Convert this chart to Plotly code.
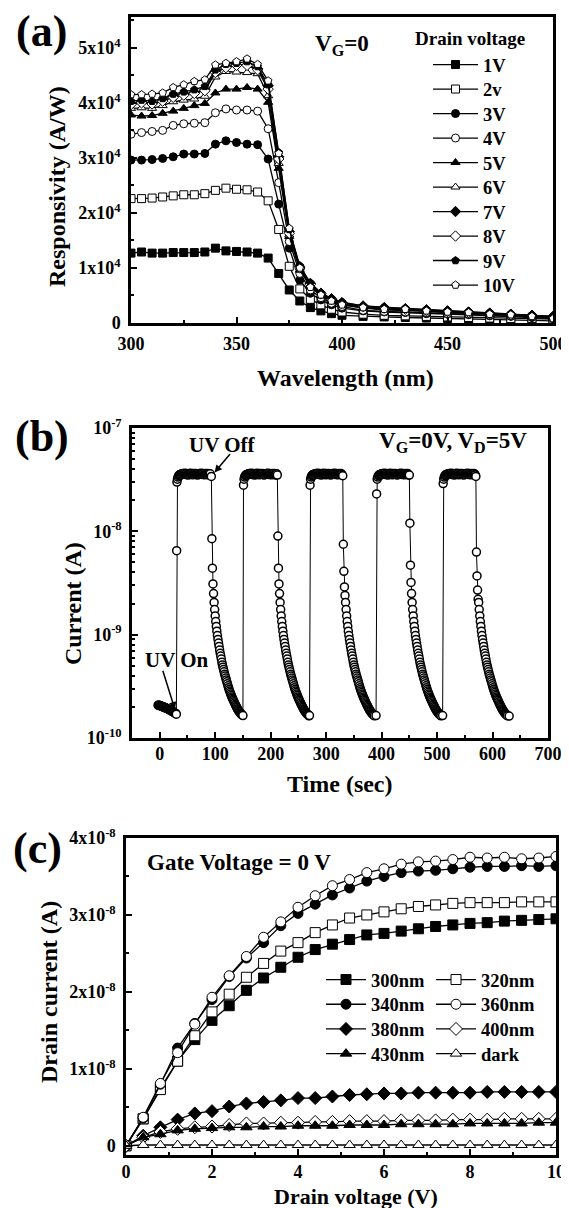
import math
import plotly.graph_objects as go

W, H = 569, 1208          # target window
PAD = 8                   # default page margin of the html body
WF, HF = W - PAD, H - PAD  # figure size so it fills the window exactly
FONT = "Liberation Serif"

# ---------------- Panel (a): responsivity vs wavelength (x1e4 A/W) ----------------
wavelength = [300, 305, 310, 315, 320, 325, 330, 335, 340, 345, 350, 355, 360, 365, 370,
              375, 380, 385, 390, 395, 400, 410, 420, 430, 440, 450, 460, 470, 480, 490, 500]
resp_1V = [1.27, 1.29, 1.27, 1.27, 1.28, 1.28, 1.28, 1.29, 1.36, 1.31, 1.30, 1.29, 1.27, 1.18, 0.90,
           0.60, 0.40, 0.28, 0.22, 0.17, 0.14, 0.12, 0.11, 0.10, 0.09, 0.08, 0.07, 0.06, 0.05, 0.05, 0.04]
resp_2V = [2.26, 2.26, 2.27, 2.29, 2.31, 2.33, 2.33, 2.35, 2.41, 2.45, 2.43, 2.42, 2.38, 2.22, 1.70,
           1.03, 0.62, 0.43, 0.33, 0.25, 0.20, 0.16, 0.14, 0.13, 0.12, 0.11, 0.10, 0.09, 0.08, 0.08, 0.07]
resp_3V = [2.96, 2.96, 2.97, 2.99, 3.02, 3.07, 3.07, 3.08, 3.25, 3.31, 3.28, 3.25, 3.24, 2.98, 2.16,
           1.36, 0.78, 0.54, 0.42, 0.33, 0.27, 0.22, 0.20, 0.19, 0.17, 0.16, 0.15, 0.13, 0.12, 0.10, 0.08]
resp_4V = [3.43, 3.46, 3.48, 3.50, 3.59, 3.62, 3.63, 3.64, 3.82, 3.89, 3.87, 3.87, 3.85, 3.53, 2.55,
           1.48, 0.90, 0.60, 0.46, 0.36, 0.30, 0.23, 0.21, 0.20, 0.19, 0.17, 0.16, 0.14, 0.13, 0.11, 0.09]
resp_5V = [3.78, 3.76, 3.77, 3.81, 3.85, 3.90, 3.95, 3.99, 4.18, 4.25, 4.25, 4.28, 4.25, 4.01, 2.81,
           1.57, 0.96, 0.66, 0.49, 0.39, 0.33, 0.27, 0.24, 0.23, 0.21, 0.19, 0.18, 0.16, 0.15, 0.13, 0.10]
resp_6V = [3.90, 3.91, 3.90, 3.95, 4.02, 4.05, 4.07, 4.12, 4.47, 4.57, 4.56, 4.55, 4.53, 4.13, 2.90,
           1.60, 1.00, 0.69, 0.51, 0.42, 0.35, 0.28, 0.25, 0.24, 0.22, 0.20, 0.19, 0.17, 0.15, 0.13, 0.11]
resp_7V = [3.99, 4.02, 3.99, 4.05, 4.13, 4.16, 4.19, 4.24, 4.57, 4.66, 4.69, 4.69, 4.62, 4.31, 3.02,
           1.66, 1.02, 0.72, 0.54, 0.44, 0.37, 0.31, 0.28, 0.26, 0.24, 0.22, 0.20, 0.18, 0.16, 0.14, 0.12]
resp_8V = [3.97, 4.00, 3.98, 4.03, 4.10, 4.14, 4.17, 4.22, 4.55, 4.64, 4.68, 4.68, 4.60, 4.25, 2.98,
           1.63, 1.00, 0.70, 0.53, 0.43, 0.36, 0.30, 0.27, 0.25, 0.23, 0.21, 0.19, 0.17, 0.15, 0.13, 0.11]
resp_9V = [4.03, 4.05, 4.03, 4.08, 4.16, 4.20, 4.24, 4.30, 4.60, 4.70, 4.72, 4.75, 4.66, 4.33, 3.10,
           1.70, 1.04, 0.73, 0.55, 0.45, 0.38, 0.31, 0.29, 0.27, 0.25, 0.23, 0.21, 0.19, 0.17, 0.15, 0.12]
resp_10V = [4.15, 4.15, 4.16, 4.18, 4.28, 4.33, 4.39, 4.42, 4.69, 4.72, 4.75, 4.80, 4.70, 4.40, 3.08,
            1.72, 1.00, 0.65, 0.51, 0.40, 0.33, 0.28, 0.25, 0.25, 0.22, 0.20, 0.19, 0.16, 0.15, 0.12, 0.08]
labels_a = ["1V", "2v", "3V", "4V", "5V", "6V", "7V", "8V", "9V", "10V"]
symbols_a = ["square", "square", "circle", "circle", "triangle-up", "triangle-up",
             "diamond", "diamond", "pentagon", "pentagon"]
fills_a = ["black", "white"] * 5
resp_all = [resp_1V, resp_2V, resp_3V, resp_4V, resp_5V, resp_6V, resp_7V, resp_8V, resp_9V, resp_10V]
ticks_a_y = [0, 1e4, 2e4, 3e4, 4e4, 5e4]
ticktext_a_y = ["0", "1x10<sup>4</sup>", "2x10<sup>4</sup>", "3x10<sup>4</sup>",
                "4x10<sup>4</sup>", "5x10<sup>4</sup>"]

# ---------------- Panel (b): transient photocurrent ----------------
dark_t = [-3, -2, -1, 0, 1, 2, 3, 4, 5, 6, 7, 8, 9, 10, 11, 12, 13, 14, 15, 16, 17, 18, 19, 20,
          21, 22, 23, 24, 25, 26, 27, 28, 29]
dark_I = [2.08, 2.07, 2.07, 2.06, 2.05, 2.04, 2.03, 2.02, 2.01, 2.00, 1.99, 1.98, 1.97, 1.96,
          1.95, 1.94, 1.93, 1.92, 1.90, 1.89, 1.88, 1.87, 1.85, 1.84, 1.83, 1.82, 1.80, 1.79,
          1.78, 1.77, 1.75, 1.74, 1.72]             # x1e-10 A
on_times = [30, 150, 270, 390, 510]
off_times = [93, 212, 330, 450, 570]
end_time = 630
rise_I = [3.0, 2.8, 2.8, 2.3, 2.9]                 # x1e-8 A, first point after UV on
rise_mid_I = 0.65                                   # x1e-8 A, intermediate point, first cycle
plateau_I = [3.20, 3.35, 3.45, 3.50, 3.52, 3.55, 3.50, 3.58, 3.60, 3.55, 3.62, 3.57, 3.60, 3.65,
             3.55, 3.58, 3.62, 3.55, 3.60, 3.50, 3.58, 3.62, 3.55, 3.60, 3.65, 3.57, 3.60, 3.52,
             3.58, 3.62, 3.55, 3.60, 3.57, 3.62, 3.55, 3.60, 3.50, 3.58, 3.60, 3.55, 3.62, 3.57,
             3.60, 3.65, 3.55, 3.58, 3.62, 3.55, 3.60, 3.52, 3.58, 3.62, 3.55, 3.60, 3.57, 3.62,
             3.55, 3.50, 3.58, 3.60]                # x1e-8 A, every 1 s
off_I = [3.40, 3.50, 3.45, 3.50, 3.40]             # x1e-8 A at UV off
first_decay = [[8.5, 4.4, 3.1, 2.5], [9.0, 4.4, 3.1, 2.5], [7.5, 4.1, 2.9, 2.4],
               [12.0, 4.7, 3.2, 2.5], [6.3, 3.7, 2.7, 2.2]]   # x1e-9 A at 1..4 s after off
tail_dt = [5, 6, 7, 8, 9, 10, 11, 12, 13, 14, 15, 16, 17, 18, 19, 20, 21, 22, 23, 24, 25, 26,
           27, 28, 29, 30, 31, 32, 33, 34, 35, 36, 37, 38, 39, 40, 41, 42, 43, 44, 45, 46, 47,
           48, 49, 50, 51, 52, 53, 54, 55, 56, 57]
tail_I = [20.5, 17.5, 15.2, 13.4, 12.0, 10.8, 9.8, 9.0, 8.3, 7.7, 7.1, 6.6, 6.2, 5.8, 5.4, 5.1,
          4.85, 4.6, 4.37, 4.15, 3.97, 3.8, 3.65, 3.5, 3.35, 3.2, 3.07, 2.95, 2.85, 2.75, 2.66,
          2.58, 2.5, 2.43, 2.36, 2.3, 2.24, 2.18, 2.12, 2.07, 2.02, 1.97, 1.92, 1.88, 1.84, 1.81,
          1.78, 1.75, 1.72, 1.70, 1.68, 1.66, 1.64]  # x1e-10 A
bottom_I = [1.70, 1.65, 1.65, 1.65, 1.65, 1.63]    # x1e-10 A at each UV-on instant and end

# ---------------- Panel (c): drain current vs drain voltage (x1e-8 A) ----------------
vd = [0.0, 0.4, 0.8, 1.2, 1.6, 2.0, 2.4, 2.8, 3.2, 3.6, 4.0, 4.4, 4.8, 5.2, 5.6, 6.0, 6.4, 6.8,
      7.2, 7.6, 8.0, 8.4, 8.8, 9.2, 9.6, 10.0]
id_300 = [0, 0.35, 0.75, 1.10, 1.38, 1.63, 1.82, 2.02, 2.18, 2.32, 2.45, 2.55, 2.62, 2.68, 2.74,
          2.76, 2.79, 2.82, 2.85, 2.87, 2.89, 2.90, 2.92, 2.93, 2.94, 2.95]
id_320 = [0, 0.35, 0.73, 1.10, 1.43, 1.74, 1.97, 2.19, 2.37, 2.53, 2.64, 2.77, 2.87, 2.96, 3.00,
          3.04, 3.08, 3.11, 3.13, 3.15, 3.16, 3.16, 3.16, 3.17, 3.17, 3.17]
id_340 = [0, 0.36, 0.80, 1.27, 1.59, 1.90, 2.20, 2.44, 2.64, 2.86, 3.02, 3.14, 3.26, 3.35, 3.44,
          3.50, 3.55, 3.57, 3.58, 3.60, 3.62, 3.63, 3.63, 3.64, 3.63, 3.64]
id_360 = [0, 0.37, 0.81, 1.21, 1.58, 1.93, 2.21, 2.46, 2.71, 2.91, 3.10, 3.25, 3.38, 3.46, 3.55,
          3.60, 3.66, 3.69, 3.70, 3.72, 3.75, 3.74, 3.75, 3.73, 3.74, 3.76]
id_380 = [0, 0.13, 0.24, 0.34, 0.42, 0.45, 0.51, 0.55, 0.57, 0.59, 0.62, 0.62, 0.64, 0.66, 0.67,
          0.68, 0.68, 0.69, 0.69, 0.69, 0.69, 0.70, 0.70, 0.70, 0.70, 0.70]
id_400 = [0, 0.11, 0.18, 0.22, 0.24, 0.25, 0.27, 0.29, 0.29, 0.30, 0.30, 0.31, 0.31, 0.32, 0.32,
          0.32, 0.33, 0.33, 0.33, 0.34, 0.34, 0.34, 0.35, 0.35, 0.35, 0.35]
id_430 = [0, 0.11, 0.15, 0.20, 0.22, 0.23, 0.24, 0.24, 0.25, 0.25, 0.26, 0.26, 0.26, 0.27, 0.27,
          0.27, 0.28, 0.28, 0.28, 0.28, 0.29, 0.29, 0.29, 0.29, 0.30, 0.30]
id_dark = [0, 0.01, 0.01, 0.01, 0.01, 0.01, 0.01, 0.01, 0.01, 0.01, 0.01, 0.01, 0.01, 0.01, 0.01,
           0.01, 0.01, 0.01, 0.01, 0.01, 0.01, 0.01, 0.01, 0.01, 0.01, 0.01]
labels_c = ["300nm", "320nm", "340nm", "360nm", "380nm", "400nm", "430nm", "dark"]
symbols_c = ["square", "square", "circle", "circle", "diamond", "diamond", "triangle-up", "triangle-up"]
fills_c = ["black", "white"] * 4
id_all = [id_300, id_320, id_340, id_360, id_380, id_400, id_430, id_dark]
ticks_c_y = [0, 1e-8, 2e-8, 3e-8, 4e-8]
ticktext_c_y = ["0", "1x10<sup>-8</sup>", "2x10<sup>-8</sup>", "3x10<sup>-8</sup>", "4x10<sup>-8</sup>"]


def fx(p):
    """window pixel -> paper x"""
    return (p - PAD) / WF


def fy(p):
    """window pixel -> paper y"""
    return 1 - (p - PAD) / HF


def legend_id(n):
    return "legend" if n == 0 else "legend%d" % (n + 1)


fig = go.Figure()
legends = {}
legfont = dict(family=FONT, size=18.5, color="black", weight="bold")

# ---- panel (a) traces, one legend box per entry (single column)
for i, (name, vals, sym, fill) in enumerate(zip(labels_a, resp_all, symbols_a, fills_a)):
    lid = legend_id(i)
    fig.add_trace(go.Scatter(
        x=wavelength, y=[v * 1e4 for v in vals], mode="lines+markers", name=name,
        line=dict(color="black", width=1.3),
        marker=dict(symbol=sym, size=8, color=fill, line=dict(color="black", width=1)),
        xaxis="x", yaxis="y", legend=lid))
    legends[lid] = dict(x=fx(428), y=fy(65 + 24.5 * i), xanchor="left", yanchor="middle",
                        bgcolor="rgba(0,0,0,0)", itemwidth=45, font=legfont)

# ---- panel (b) trace assembled from the read values
tb = list(dark_t)
ib = [v * 1e-10 for v in dark_I]
for k in range(5):
    t_on, t_off = on_times[k], off_times[k]
    t_next = on_times[k + 1] if k < 4 else end_time
    tb.append(t_on); ib.append(bottom_I[k] * 1e-10)
    if k == 0:
        tb.append(t_on + 0.5); ib.append(rise_mid_I * 1e-8)
    tb.append(t_on + 1); ib.append(rise_I[k] * 1e-8)
    for j, v in enumerate(plateau_I):
        t = t_on + 2 + j
        if t >= t_off:
            break
        tb.append(t); ib.append(v * 1e-8)
    tb.append(t_off); ib.append(off_I[k] * 1e-8)
    for j, v in enumerate(first_decay[k]):
        tb.append(t_off + 1 + j); ib.append(v * 1e-9)
    for dt, v in zip(tail_dt, tail_I):
        if t_off + dt >= t_next:
            break
        tb.append(t_off + dt); ib.append(v * 1e-10)
    if k == 4:
        tb.append(end_time); ib.append(bottom_I[5] * 1e-10)

fig.add_trace(go.Scatter(
    x=tb, y=ib, mode="lines+markers", showlegend=False,
    line=dict(color="black", width=1),
    marker=dict(symbol="circle", size=8, color="white", line=dict(color="black", width=1.5)),
    xaxis="x2", yaxis="y2"))

# ---- panel (c) traces, legend in two columns of four rows
for i, (name, vals, sym, fill) in enumerate(zip(labels_c, id_all, symbols_c, fills_c)):
    lid = legend_id(10 + i)
    fig.add_trace(go.Scatter(
        x=vd, y=[v * 1e-8 for v in vals], mode="lines+markers", name=name,
        line=dict(color="black", width=1.3),
        marker=dict(symbol=sym, size=10, color=fill, line=dict(color="black", width=1)),
        xaxis="x3", yaxis="y3", legend=lid))
    col, row = i % 2, i // 2
    legends[lid] = dict(x=fx(321 + 110 * col), y=fy(980 + 24.7 * row), xanchor="left",
                        yanchor="middle", bgcolor="rgba(0,0,0,0)", itemwidth=40, font=legfont)

tickfont = dict(family=FONT, size=18, color="black", weight="bold")
base = dict(showline=True, linecolor="black", linewidth=2.5, mirror=True, showgrid=False,
            zeroline=False, ticks="inside", ticklen=6, tickwidth=2, tickcolor="black",
            tickfont=tickfont, automargin=False)
minor = dict(ticks="inside", ticklen=3, tickwidth=1.5, tickcolor="black", showgrid=False)

log_minor = []
for e in (-10, -9, -8):
    for m in range(2, 10):
        log_minor.append(m * 10 ** e)

fig.update_layout(
    width=WF, height=HF, margin=dict(l=0, r=0, t=0, b=0, autoexpand=False),
    paper_bgcolor="white", plot_bgcolor="white",
    xaxis=dict(base, domain=[fx(131), fx(553)], range=[300, 500], anchor="y",
               tickvals=[300, 350, 400, 450, 500], minor=dict(minor, dtick=25, tick0=300),
               ticklabelstandoff=3),
    yaxis=dict(base, domain=[fy(323), fy(17)], range=[0, 5.56e4], anchor="x",
               tickvals=ticks_a_y, ticktext=ticktext_a_y,
               minor=dict(minor, dtick=5e3, tick0=0), ticklabelstandoff=4),
    xaxis2=dict(base, domain=[fx(132), fx(548)], range=[-50, 700], anchor="y2",
                tickvals=[0, 100, 200, 300, 400, 500, 600, 700],
                minor=dict(minor, dtick=50, tick0=0), ticklabelstandoff=-2),
    yaxis2=dict(base, type="log", domain=[fy(738), fy(428)], range=[-10, -7], anchor="x2",
                tickvals=[1e-10, 1e-9, 1e-8, 1e-7],
                ticktext=["10<sup>-10</sup>", "10<sup>-9</sup>", "10<sup>-8</sup>", "10<sup>-7</sup>"],
                minor=dict(minor, tickmode="array", tickvals=log_minor), ticklabelstandoff=4),
    xaxis3=dict(base, domain=[fx(126), fx(556)], range=[0, 10], anchor="y3",
                tickvals=[0, 2, 4, 6, 8, 10], minor=dict(minor, dtick=1, tick0=0),
                ticklabelstandoff=-1),
    yaxis3=dict(base, domain=[fy(1155), fy(838)], range=[-0.12e-8, 4e-8], anchor="x3",
                tickvals=ticks_c_y, ticktext=ticktext_c_y,
                minor=dict(minor, dtick=0.5e-8, tick0=0), ticklabelstandoff=4),
    **legends,
)


def text_ann(txt, px, py, size, angle=0):
    fig.add_annotation(text=txt, x=fx(px), y=fy(py), xref="paper", yref="paper",
                       showarrow=False, textangle=angle, xanchor="center", yanchor="middle",
                       font=dict(family=FONT, size=size, color="black", weight="bold"))


# panel labels
text_ann("(a)", 41, 31, 44)
text_ann("(b)", 42, 436, 44)
text_ann("(c)", 37, 848, 44)
# axis titles
text_ann("Wavelength (nm)", 345, 378, 24)
text_ann("Responsivity (A/W)", 57, 187, 24, -90)
text_ann("Time (sec)", 340, 784, 24)
text_ann("Current (A)", 73, 604, 24, -90)
text_ann("Drain voltage (V)", 356, 1196, 22)
text_ann("Drain current (A)", 49, 992, 24, -90)
# in-plot texts
text_ann("Drain voltage", 470, 38, 19)
text_ann("V<sub>G</sub>=0", 342, 45, 23)
text_ann("V<sub>G</sub>=0V, V<sub>D</sub>=5V", 453, 442, 23)
text_ann("UV Off", 222, 445, 21)
text_ann("UV On", 177, 660, 21)
text_ann("Gate Voltage = 0 V", 239, 862, 23)

# arrows pointing at UV off / UV on points of the first cycle
fig.add_annotation(x=off_times[0], y=math.log10(off_I[0] * 1e-8), xref="x2", yref="y2",
                   text="", showarrow=True, ax=20, ay=-24, arrowhead=2, arrowsize=1,
                   arrowwidth=1.5, arrowcolor="black", standoff=5)
fig.add_annotation(x=on_times[0], y=math.log10(bottom_I[0] * 1e-10), xref="x2", yref="y2",
                   text="", showarrow=True, ax=-14, ay=-45, arrowhead=2, arrowsize=1,
                   arrowwidth=1.5, arrowcolor="black", standoff=5)

fig.write_html("out.html")
